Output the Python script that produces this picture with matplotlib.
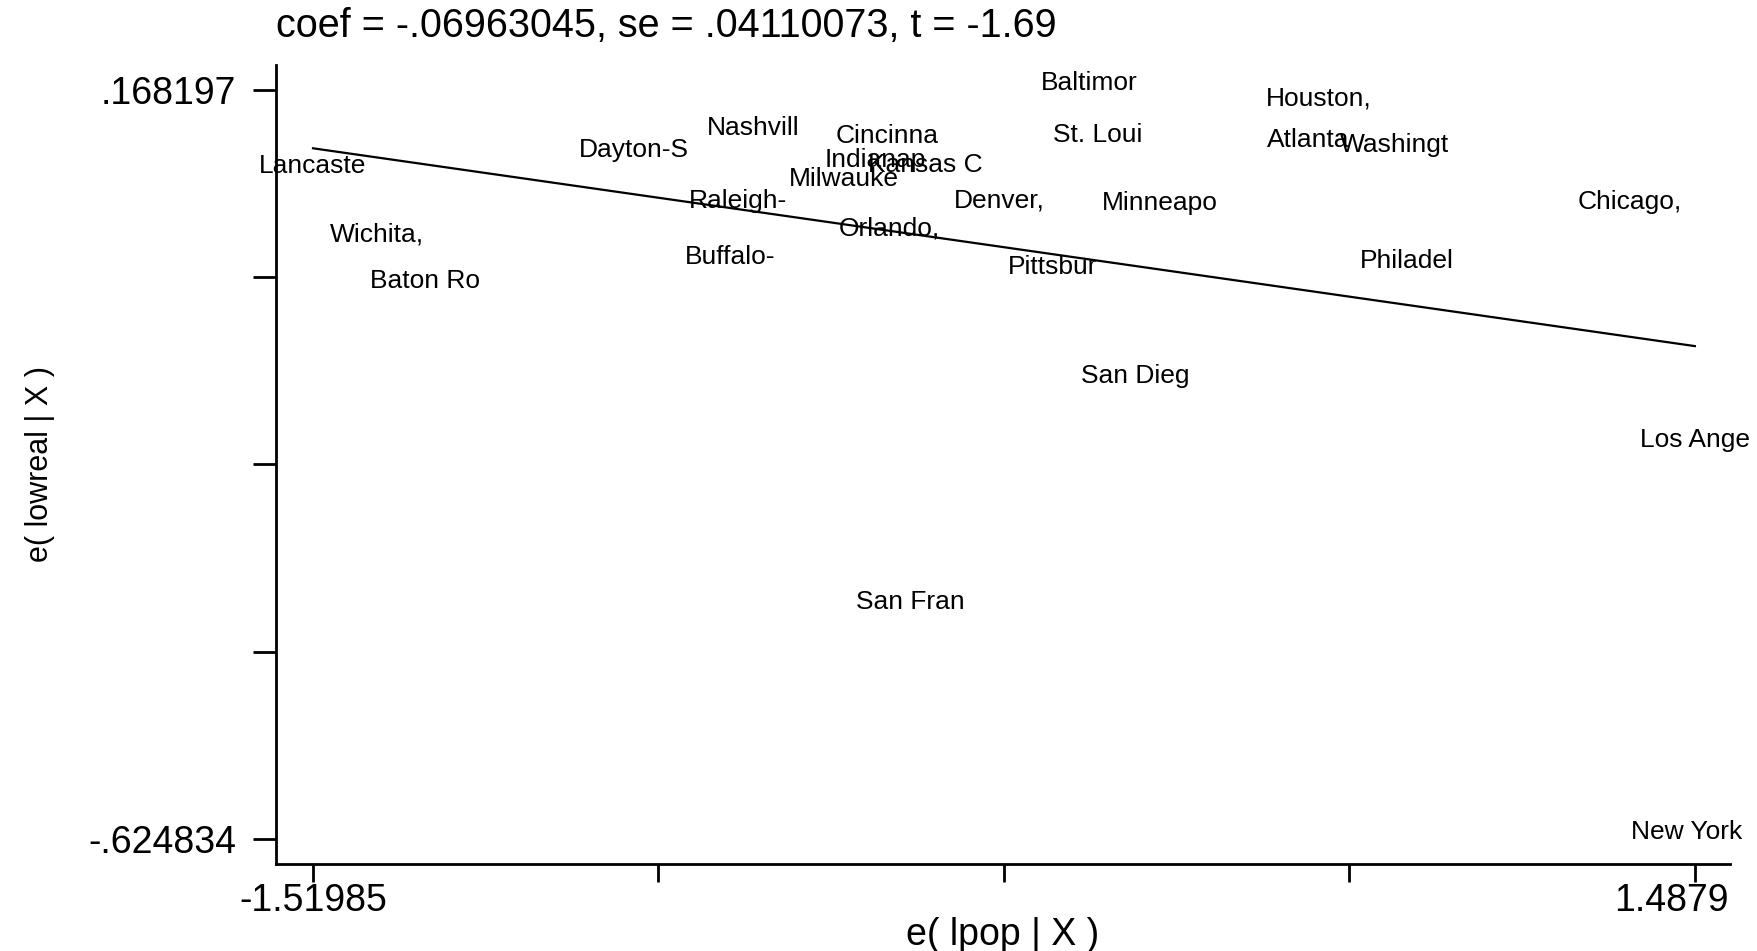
import numpy as np
import matplotlib
matplotlib.use("Agg")
import matplotlib.pyplot as plt
import matplotlib.transforms as mtransforms

plt.rcParams['font.family'] = ['Liberation Sans', 'DejaVu Sans']

# added-variable plot: residuals of lowreal vs residuals of lpop
cities = ['Lancaste', 'Dayton-S', 'Nashvill', 'Cincinna', 'Indianap', 'Kansas C',
          'Milwauke', 'Raleigh-', 'Orlando,', 'Buffalo-', 'Wichita,', 'Baton Ro',
          'Baltimor', 'St. Loui', 'Denver,', 'Pittsbur', 'Minneapo', 'San Dieg',
          'San Fran', 'Houston,', 'Atlanta', 'Washingt', 'Philadel', 'Chicago,',
          'Los Ange', 'New York']
e_lpop = [-1.51985, -0.8222, -0.5612, -0.2709, -0.2953, -0.1879,
          -0.3636, -0.5953, -0.2660, -0.6124, -1.3808, -1.2759,
          0.1706, 0.1877, -0.0269, 0.0901, 0.3243, 0.2706,
          -0.2197, 0.6683, 0.6463, 0.8341, 0.8610, 1.3465,
          1.4879, 1.4709]
e_lowreal = [0.0804, 0.0970, 0.1207, 0.1124, 0.0863, 0.0816,
             0.0661, 0.0436, 0.0139, -0.0158, 0.0079, -0.0419,
             0.168197, 0.1136, 0.0436, -0.0265, 0.0412, -0.1416,
             -0.3815, 0.1516, 0.1077, 0.1029, -0.0205, 0.0424,
             -0.2093, -0.624834]

coef = -0.06963045
se = 0.04110073
tstat = -1.69

xlab_ends = ['-1.51985', '1.4879']
ylab_ends = ['-.624834', '.168197']

x = np.array(e_lpop)
y = np.array(e_lowreal)

fig = plt.figure(figsize=(17.58, 9.51), dpi=100)
ax = fig.add_axes([0.157, 0.0915, 0.827, 0.8402])

# labels only, no markers (msymbol(i) mlabel(city))
for name, xi, yi in zip(cities, x, y):
    ax.annotate(name, (xi, yi), xytext=(0, 5), textcoords='offset points',
                ha='center', va='center', fontsize=19)

# fitted line through the residual means
b0 = y.mean() - coef * x.mean()
xx = np.array([x.min(), x.max()])
ax.plot(xx, b0 + coef * xx, color='black', linewidth=1.6)

xt = np.linspace(x.min(), x.max(), 5)
yt = np.linspace(y.min(), y.max(), 5)
ax.set_xticks(xt)
ax.set_xticklabels([xlab_ends[0], '', '', '', xlab_ends[1]])
ax.set_yticks(yt)
ax.set_yticklabels([ylab_ends[0], '', '', '', ylab_ends[1]])

ax.set_xlim(-1.6004, 1.5641)
ax.set_ylim(-0.6513, 0.1947)

ax.spines['top'].set_visible(False)
ax.spines['right'].set_visible(False)
for s in ['left', 'bottom']:
    ax.spines[s].set_linewidth(2)
ax.tick_params(axis='both', direction='out', width=2, labelsize=27)
ax.tick_params(axis='x', length=13, pad=1)
ax.tick_params(axis='y', length=16.5, pad=12)

# last x label is kept inside the plot edge, like Stata does
last = ax.get_xticklabels()[-1]
last.set_transform(last.get_transform() +
                   mtransforms.ScaledTranslation(-0.235, 0, fig.dpi_scale_trans))

ax.set_xlabel('e( lpop | X )', fontsize=27, labelpad=-2)
ax.set_ylabel('e( lowreal | X )', fontsize=22, labelpad=24)
ax.set_title(f'coef = {coef:.8f}'.replace('0.', '.', 1) +
             f', se = {se:.8f}'.replace('0.', '.', 1) + f', t = {tstat:.2f}',
             loc='left', fontsize=28.5, pad=20, x=0.0)

fig.savefig('out.png', dpi=100, facecolor='white')
